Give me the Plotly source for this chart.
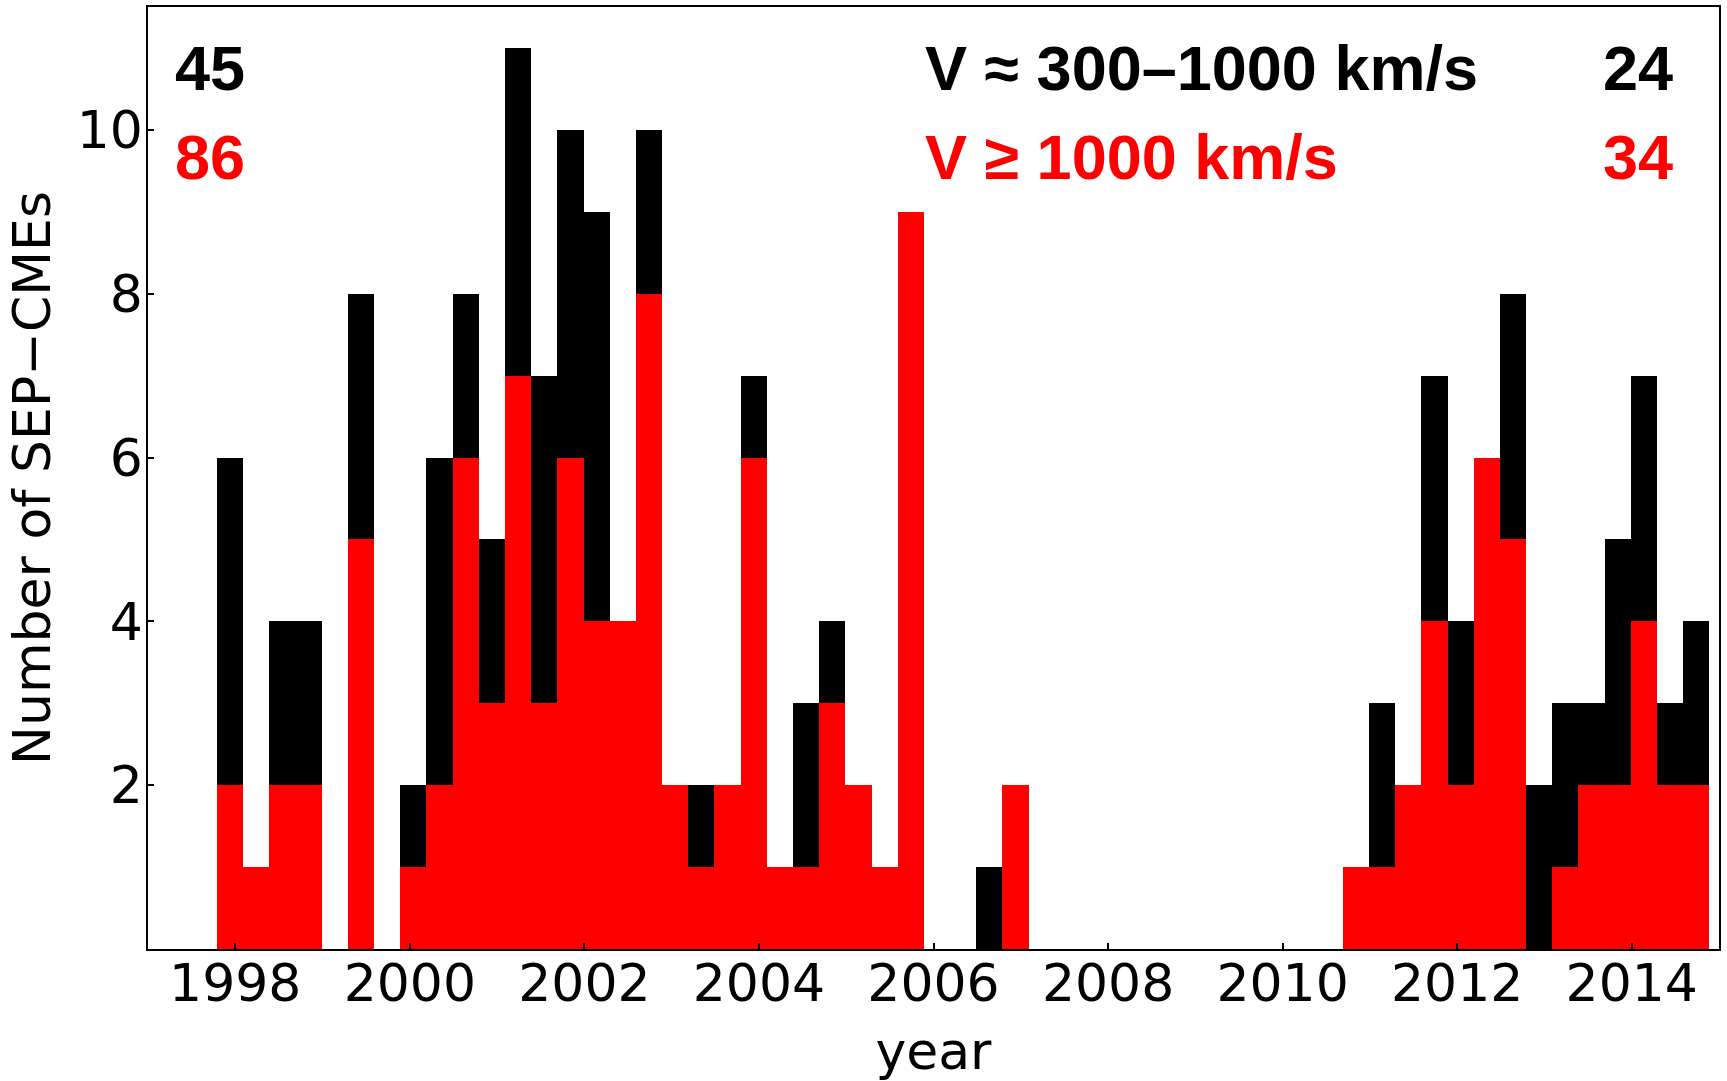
import plotly.graph_objects as go

# Bin centres (years), bin width 0.3 yr
year_bins = [1997.94, 1998.24, 1998.54, 1998.84, 1999.14, 1999.44, 1999.74, 2000.04,
             2000.34, 2000.64, 2000.94, 2001.24, 2001.54, 2001.84, 2002.14, 2002.44,
             2002.74, 2003.04, 2003.34, 2003.64, 2003.94, 2004.24, 2004.54, 2004.84,
             2005.14, 2005.44, 2005.74, 2006.04, 2006.34, 2006.64, 2006.94, 2007.24,
             2007.54, 2007.84, 2008.14, 2008.44, 2008.74, 2009.04, 2009.34, 2009.64,
             2009.94, 2010.24, 2010.54, 2010.84, 2011.14, 2011.44, 2011.74, 2012.04,
             2012.34, 2012.64, 2012.94, 2013.24, 2013.54, 2013.84, 2014.14, 2014.44,
             2014.74]
bin_width = 0.3

# V >= 1000 km/s (red)
fast_counts = [2, 1, 2, 2, 0, 5, 0, 1, 2, 6, 3, 7, 3, 6, 4, 4, 8, 2, 1, 2, 6, 1, 1, 3,
               2, 1, 9, 0, 0, 0, 2, 0, 0, 0, 0, 0, 0, 0, 0, 0, 0, 0, 0, 1, 1, 2, 4, 2,
               6, 5, 0, 1, 2, 2, 4, 2, 2]
# V ~ 300-1000 km/s (black, stacked on top)
slow_counts = [4, 0, 2, 2, 0, 3, 0, 1, 4, 2, 2, 4, 4, 4, 5, 0, 2, 0, 1, 0, 1, 0, 2, 1,
               0, 0, 0, 0, 0, 1, 0, 0, 0, 0, 0, 0, 0, 0, 0, 0, 0, 0, 0, 0, 2, 0, 3, 2,
               0, 3, 2, 2, 1, 3, 3, 1, 2]

x_ticks = [1998, 2000, 2002, 2004, 2006, 2008, 2010, 2012, 2014]
y_ticks = [2, 4, 6, 8, 10]

totals_left = {"slow": 45, "fast": 86}
totals_right = {"slow": 24, "fast": 34}
label_slow = "V ≈ 300–1000 km/s"
label_fast = "V ≥ 1000 km/s"

fig = go.Figure()
fig.add_trace(go.Bar(x=year_bins, y=fast_counts, width=[bin_width] * len(year_bins),
                     marker=dict(color="#ff0000", line=dict(width=0)), name=label_fast))
fig.add_trace(go.Bar(x=year_bins, y=slow_counts, width=[bin_width] * len(year_bins),
                     marker=dict(color="#000000", line=dict(width=0)), name=label_slow))

tick_font = dict(family="DejaVu Sans", size=52, color="black")
ann_font = "Liberation Sans"

fig.update_layout(
    width=1727, height=1081,
    barmode="stack", bargap=0,
    showlegend=False,
    plot_bgcolor="white", paper_bgcolor="white",
    margin=dict(l=148, r=8, t=5, b=132),
    xaxis=dict(range=[1997, 2015], tickvals=x_ticks, ticks="inside", ticklen=6,
               tickwidth=1.5, tickcolor="black", showline=True, linecolor="black",
               linewidth=1.5, mirror=True, showgrid=False, zeroline=False,
               tickfont=tick_font, ticklabelstandoff=-12,
               title=dict(text="year", font=tick_font, standoff=20)),
    yaxis=dict(range=[0, 11.5], tickvals=y_ticks, ticks="inside", ticklen=6,
               tickwidth=1.5, tickcolor="black", showline=True, linecolor="black",
               linewidth=1.5, mirror=True, showgrid=False, zeroline=False,
               tickfont=tick_font, ticklabelstandoff=-7,
               title=dict(text="Number of SEP−CMEs", font=tick_font, standoff=9)),
)

def ann(x, y, text, color, xanchor):
    fig.add_annotation(x=x, y=y, xref="paper", yref="paper", text=f"<b>{text}</b>",
                       showarrow=False, xanchor=xanchor, yanchor="middle",
                       font=dict(family=ann_font, size=63, color=color))

ann(0.0162, 0.935, str(totals_left["slow"]), "black", "left")
ann(0.0162, 0.841, str(totals_left["fast"]), "#ff0000", "left")
ann(0.4933, 0.935, label_slow, "black", "left")
ann(0.4933, 0.841, label_fast, "#ff0000", "left")
ann(0.9717, 0.935, str(totals_right["slow"]), "black", "right")
ann(0.9717, 0.841, str(totals_right["fast"]), "#ff0000", "right")

fig.write_html("out.html")
